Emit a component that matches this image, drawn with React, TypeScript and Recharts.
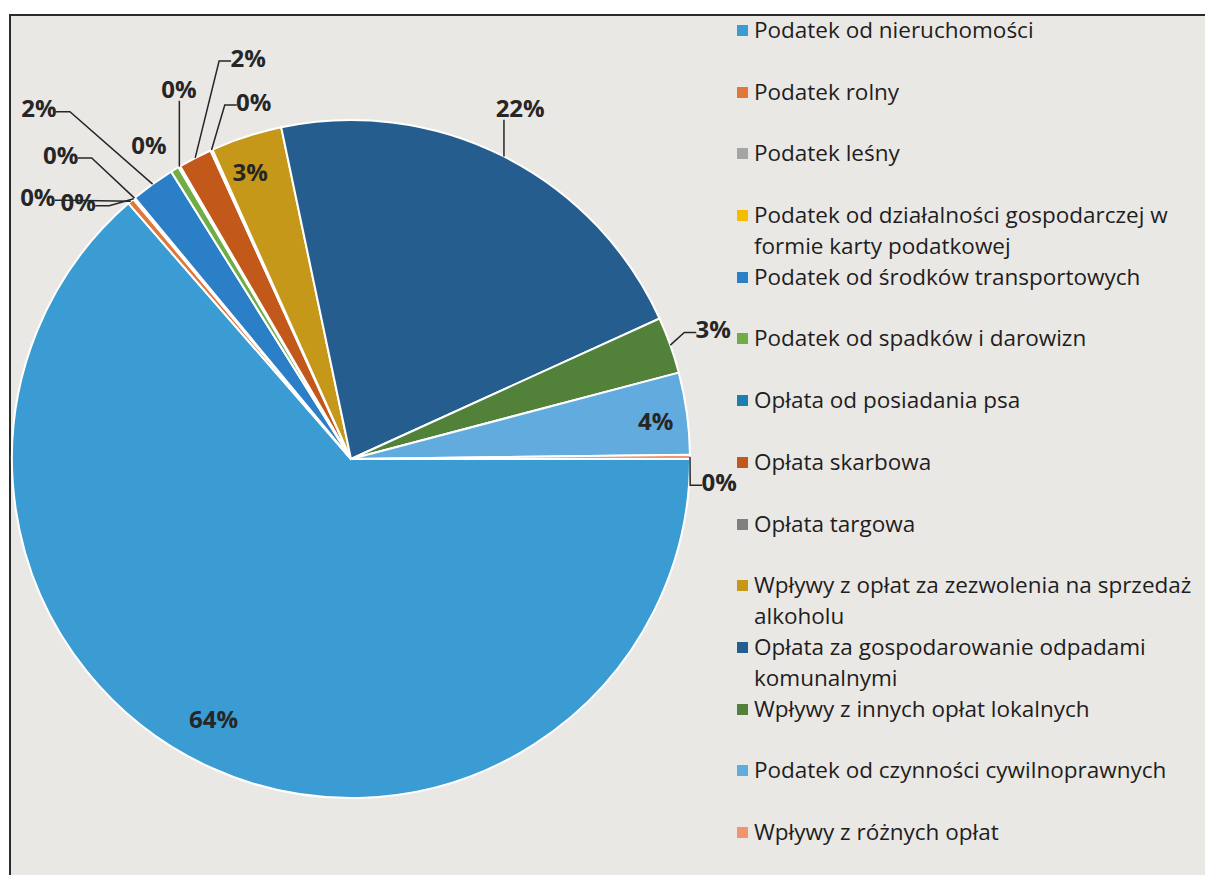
import React from 'react';
import { PieChart, Pie, Cell, Legend } from 'recharts';

const CATEGORIES = [
  'Podatek od nieruchomości',
  'Podatek rolny',
  'Podatek leśny',
  'Podatek od działalności gospodarczej w formie karty podatkowej',
  'Podatek od środków transportowych',
  'Podatek od spadków i darowizn',
  'Opłata od posiadania psa',
  'Opłata skarbowa',
  'Opłata targowa',
  'Wpływy z opłat za zezwolenia na sprzedaż alkoholu',
  'Opłata za gospodarowanie odpadami komunalnymi',
  'Wpływy z innych opłat lokalnych',
  'Podatek od czynności cywilnoprawnych',
  'Wpływy z różnych opłat',
];

// share of revenue, percent
const SHARES = [63.6, 0.3, 0.05, 0.05, 2.1, 0.4, 0.1, 1.6, 0.1, 3.4, 21.5, 2.7, 3.9, 0.2];

const COLORS = [
  '#3a9cd3', '#e0783a', '#a5a5a5', '#f5bd00', '#2b7fc6', '#70ad47', '#1c7fae',
  '#c2591b', '#7f7f7f', '#c6981a', '#255d8e', '#52823a', '#62abdf', '#f39370',
];

// label placement: radius factor, angle nudge (deg, clockwise), leader style
const LABEL_LAYOUT: { r: number; da: number; leader: 'none' | 'side' | 'bottom' }[] = [
  { r: 0.867, da: 3.4, leader: 'none' },
  { r: 1.206, da: -9.5, leader: 'side' },
  { r: 1.106, da: -6.8, leader: 'side' },
  { r: 1.242, da: -3.9, leader: 'side' },
  { r: 1.386, da: -5.8, leader: 'side' },
  { r: 1.103, da: -1.4, leader: 'none' },
  { r: 1.204, da: 5.5, leader: 'bottom' },
  { r: 1.224, da: 13.0, leader: 'side' },
  { r: 1.094, da: 9.1, leader: 'side' },
  { r: 0.9, da: -1.3, leader: 'none' },
  { r: 1.15, da: -1.1, leader: 'bottom' },
  { r: 1.136, da: -0.2, leader: 'side' },
  { r: 0.906, da: 0.6, leader: 'none' },
  { r: 1.088, da: 3.8, leader: 'side' },
];

const data = CATEGORIES.map((name, i) => ({ name, value: SHARES[i] }));

const RAD = Math.PI / 180;
const FONT = '"Open Sans", "Noto Sans", sans-serif';

const renderLabel = (props: any) => {
  const { cx, cy, midAngle, outerRadius, percent, index } = props;
  const lay = LABEL_LAYOUT[index];
  const screenMid = -midAngle;
  const theta = (screenMid + lay.da) * RAD;
  const lx = cx + outerRadius * lay.r * Math.cos(theta);
  const ly = cy + outerRadius * lay.r * Math.sin(theta);
  const text = `${Math.round(percent * 100)}%`;
  const w = text.length * 12 + 4;

  let line = null;
  if (lay.leader !== 'none') {
    const ex = cx + outerRadius * Math.cos(screenMid * RAD);
    const ey = cy + outerRadius * Math.sin(screenMid * RAD);
    let pts: number[][];
    if (lay.leader === 'side') {
      if (lx < ex) {
        const end = [lx + w / 2 + 3, ly + 4];
        pts = [[ex, ey], [end[0] + 14, end[1]], end];
      } else {
        const end = [lx - w / 2 - 3, ly + 4];
        pts = [[ex, ey], [end[0] - 12, end[1]], end];
      }
    } else {
      const bx = Math.min(Math.max(ex, lx - w / 2), lx + w / 2);
      pts = [[ex, ey], [bx, ly + 12]];
    }
    line = (
      <polyline
        points={pts.map((p) => p.join(',')).join(' ')}
        fill="none"
        stroke="#262626"
        strokeWidth={1.5}
      />
    );
  }

  return (
    <g key={`lbl-${index}`}>
      {line}
      <text
        x={lx}
        y={ly}
        textAnchor="middle"
        dominantBaseline="central"
        fontFamily={FONT}
        fontWeight={700}
        fontSize={24}
        fill="#262626"
      >
        {text}
      </text>
    </g>
  );
};

const renderLegend = () => (
  <div style={{ fontFamily: FONT, fontSize: 22.5, color: '#1e1e1e' }}>
    {CATEGORIES.map((name, i) => (
      <div
        key={`leg-${i}`}
        style={{ height: 61.7, display: 'flex', alignItems: 'flex-start', lineHeight: '31px' }}
      >
        <span
          style={{
            width: 11,
            height: 11,
            background: COLORS[i],
            marginTop: 11,
            marginRight: 6,
            flex: '0 0 auto',
          }}
        />
        <span style={{ width: 475 }}>{name}</span>
      </div>
    ))}
  </div>
);

export default function App() {
  return (
    <div
      style={{
        position: 'absolute',
        left: 0,
        top: 0,
        width: 1205,
        height: 875,
        overflow: 'hidden',
        background: '#ffffff',
      }}
    >
      <div
        style={{
          position: 'absolute',
          left: 9,
          top: 14,
          width: 1205,
          height: 875,
          borderTop: '2px solid #2b2b2b',
          borderLeft: '2px solid #2b2b2b',
          background: '#eae8e5',
        }}
      />
      <div style={{ position: 'absolute', left: 0, top: 0 }}>
        <PieChart width={1205} height={875} margin={{ top: 0, right: 0, bottom: 0, left: 0 }}>
          <Pie
            data={data}
            dataKey="value"
            nameKey="name"
            cx={351}
            cy={459}
            outerRadius={339}
            startAngle={0}
            endAngle={-360}
            stroke="#ffffff"
            strokeWidth={2}
            label={renderLabel}
            labelLine={false}
            isAnimationActive={false}
          >
            {data.map((d, i) => (
              <Cell key={d.name} fill={COLORS[i]} />
            ))}
          </Pie>
          <Legend
            layout="vertical"
            align="right"
            verticalAlign="top"
            content={renderLegend}
            wrapperStyle={{ left: 737, top: 14, width: 490 }}
          />
        </PieChart>
      </div>
    </div>
  );
}
